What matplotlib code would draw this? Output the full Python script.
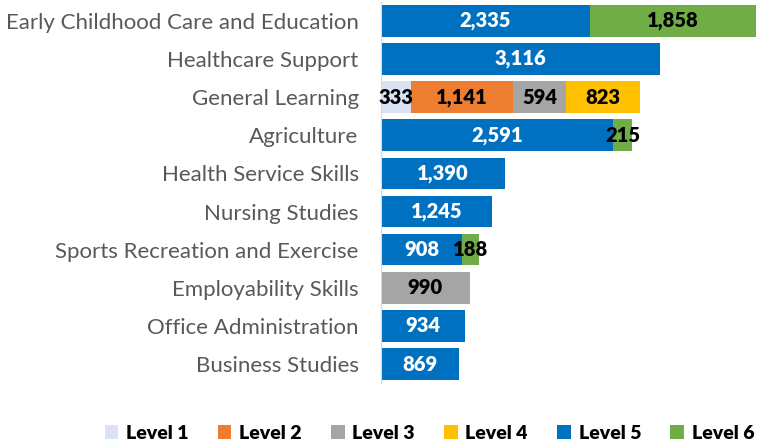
import matplotlib.pyplot as plt
import numpy as np

# Data (top to bottom)
categories = [
    "Early Childhood Care and Education",
    "Healthcare Support",
    "General Learning",
    "Agriculture",
    "Health Service Skills",
    "Nursing Studies",
    "Sports Recreation and Exercise",
    "Employability Skills",
    "Office Administration",
    "Business Studies",
]
level_names = ["Level 1", "Level 2", "Level 3", "Level 4", "Level 5", "Level 6"]

level1 = [0, 0, 333, 0, 0, 0, 0, 0, 0, 0]
level2 = [0, 0, 1141, 0, 0, 0, 0, 0, 0, 0]
level3 = [0, 0, 594, 0, 0, 0, 0, 990, 0, 0]
level4 = [0, 0, 823, 0, 0, 0, 0, 0, 0, 0]
level5 = [2335, 3116, 0, 2591, 1390, 1245, 908, 0, 934, 869]
level6 = [1858, 0, 0, 215, 0, 0, 188, 0, 0, 0]

colors = ["#dae3f3", "#ed7d31", "#a5a5a5", "#ffc000", "#0070c0", "#70ad47"]
label_colors = ["black", "black", "black", "black", "white", "black"]

plt.rcParams["font.family"] = ["Lato", "DejaVu Sans"]

fig = plt.figure(figsize=(7.71, 4.46), dpi=100)
ax = fig.add_axes([0.494, 0.141, 0.4995, 0.855])

series = [level1, level2, level3, level4, level5, level6]
y = np.arange(len(categories))
left = np.zeros(len(categories))
for vals, name, col, lcol in zip(series, level_names, colors, label_colors):
    vals = np.array(vals, dtype=float)
    bars = ax.barh(y, vals, left=left, height=0.83, color=col, label=name)
    for b, v in zip(bars, vals):
        if v > 0:
            ax.text(b.get_x() + v / 2, b.get_y() + b.get_height() / 2, f"{int(v):,}",
                    ha="center", va="center", color=lcol, fontsize=14.5, fontweight="heavy")
    left += vals

ax.set_yticks(y)
ax.set_yticklabels(categories, fontsize=16, color="#595959")
ax.set_ylim(len(categories) - 0.5, -0.5)
ax.set_xlim(0, 4300)
ax.set_xticks([])
ax.tick_params(axis="y", length=0, pad=16)
for s in ["top", "right", "bottom"]:
    ax.spines[s].set_visible(False)
ax.spines["left"].set_color("#d9d9d9")

fig.legend(loc="lower center", bbox_to_anchor=(0.557, -0.03), ncol=6, frameon=False,
           handlelength=0.7, handleheight=0.7, handletextpad=0.4, columnspacing=1.5,
           prop={"size": 14, "weight": "heavy"})

fig.savefig("out.png", dpi=100)
